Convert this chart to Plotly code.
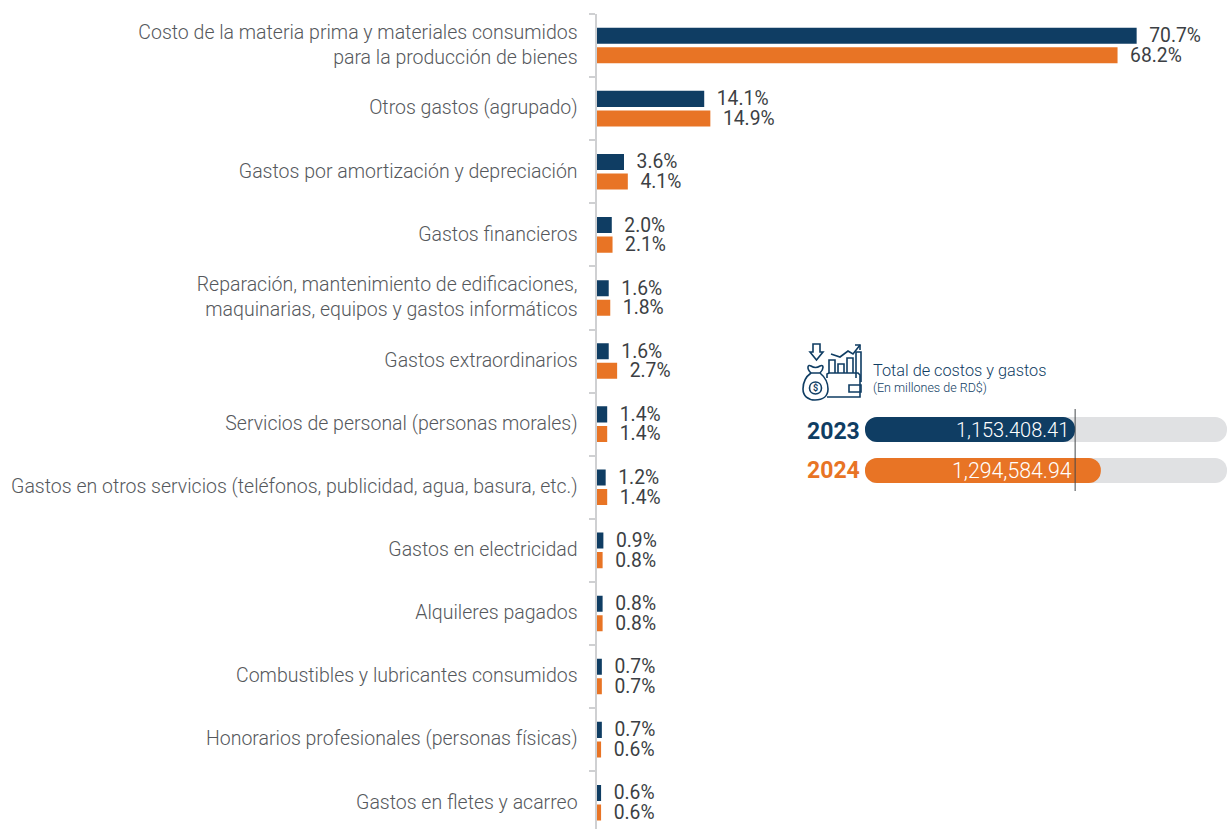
import plotly.graph_objects as go

W, H = 1227, 829
NAVY, ORANGE, GREY = "#0f3d63", "#e87425", "#e0e1e3"

categories = [
    "Costo de la materia prima y materiales consumidos<br>para la producción de bienes",
    "Otros gastos (agrupado)",
    "Gastos por amortización y depreciación",
    "Gastos financieros",
    "Reparación, mantenimiento de edificaciones,<br>maquinarias, equipos y gastos informáticos",
    "Gastos extraordinarios",
    "Servicios de personal (personas morales)",
    "Gastos en otros servicios (teléfonos, publicidad, agua, basura, etc.)",
    "Gastos en electricidad",
    "Alquileres pagados",
    "Combustibles y lubricantes consumidos",
    "Honorarios profesionales (personas físicas)",
    "Gastos en fletes y acarreo",
]
values_2023 = [70.7, 14.1, 3.6, 2.0, 1.6, 1.6, 1.4, 1.2, 0.9, 0.8, 0.7, 0.7, 0.6]
values_2024 = [68.2, 14.9, 4.1, 2.1, 1.8, 2.7, 1.4, 1.4, 0.8, 0.8, 0.7, 0.6, 0.6]

years = ["2023", "2024"]
totals = [1153408.41, 1294584.94]
total_labels = ["1,153.408.41", "1,294,584.94"]
total_track = [1987000, 1987000]
total_title = "Total de costos y gastos"
total_subtitle = "(En millones de RD$)"


def px(x):
    return x / W


def py(y):
    return 1 - y / H


def path(points, close=False):
    s = "M" + " L".join(f"{px(x):.5f},{py(y):.5f}" for x, y in points)
    return s + (" Z" if close else "")


def curve(d):
    """Turn (cmd, x, y, ...) pixel tuples into a paper-coordinate SVG path."""
    out = []
    for item in d:
        cmd, *c = item
        pts = [f"{px(c[i]):.5f},{py(c[i + 1]):.5f}" for i in range(0, len(c), 2)]
        out.append(cmd + " ".join(pts))
    return " ".join(out)


fig = go.Figure()
for name, vals, colour in [("2023", values_2023, NAVY), ("2024", values_2024, ORANGE)]:
    fig.add_trace(go.Bar(
        y=categories, x=vals, name=name, orientation="h", marker_color=colour,
        marker_line_width=0,
        text=[f"\u00a0\u00a0{v:.1f}%" for v in vals], textposition="outside",
        textangle=0, constraintext="none", cliponaxis=False,
        textfont=dict(family="Roboto", size=19.3, color="#3c3f44", weight=400),
        xaxis="x", yaxis="y", hoverinfo="skip",
    ))

# Inset: grey tracks and coloured totals share one slot per year
fig.add_trace(go.Bar(y=years, x=total_track, base=[0, 0], orientation="h", width=0.61, offsetgroup="t",
                     marker=dict(color=GREY, cornerradius="50%", line_width=0),
                     xaxis="x2", yaxis="y2", hoverinfo="skip"))
fig.add_trace(go.Bar(y=years, x=totals, base=[0, 0], orientation="h", width=0.61, offsetgroup="t",
                     marker=dict(color=[NAVY, ORANGE], cornerradius="50%", line_width=0),
                     xaxis="x2", yaxis="y2", hoverinfo="skip"))

annotations = []
for i, (yr, lab, colour, shift, yshift, fs) in enumerate(
        zip(years, total_labels, [NAVY, ORANGE], [-4, -1], [-2, 0], [20, 21.3])):
    annotations.append(dict(xref="x2", yref="y2", x=0, y=i, text=f"<b>{yr}</b>", showarrow=False,
                            xanchor="right", xshift=-3, yshift=yshift, font=dict(family="Roboto", size=23, color=colour)))
    annotations.append(dict(xref="x2", yref="y2", x=totals[0], y=i, text=lab, showarrow=False,
                            xanchor="right", xshift=shift, font=dict(family="Roboto", size=fs, color="white", weight=300)))
annotations.append(dict(xref="paper", yref="paper", x=px(871), y=py(370), text=total_title, showarrow=False,
                        xanchor="left", yanchor="middle", font=dict(family="Roboto", size=16.3, color=NAVY, weight=300)))
annotations.append(dict(xref="paper", yref="paper", x=px(871), y=py(388), text=total_subtitle, showarrow=False,
                        xanchor="left", yanchor="middle", font=dict(family="Roboto", size=12.5, color=NAVY, weight=300)))
annotations.append(dict(xref="paper", yref="paper", x=px(815.5), y=py(388), text="<b>$</b>", showarrow=False,
                        xanchor="center", yanchor="middle", font=dict(family="Roboto", size=9, color=NAVY)))

icon_line = dict(color=NAVY, width=1.6)
icon_paths = [
    path([(813, 344), (820, 344), (820, 352), (823, 352), (816.5, 360), (810, 352), (813, 352)], True),  # arrow
    curve([("M", 811, 373), ("C", 804, 378, 803, 385, 803, 389), ("C", 803, 396, 808, 400, 815, 400),
           ("C", 823, 400, 828, 396, 828, 389), ("C", 828, 385, 826, 378, 820, 373), ("Z",)]),  # bag
    curve([("M", 811, 373), ("C", 806, 368, 808, 364, 811, 366), ("C", 814, 368, 817, 368, 820, 366),
           ("C", 824, 364, 824, 369, 820, 373)]),  # bag neck
    curve([("M", 809.5, 388), ("C", 809.5, 380, 821.5, 380, 821.5, 388),
           ("C", 821.5, 396, 809.5, 396, 809.5, 388), ("Z",)]),  # coin
    path([(827, 378), (827, 374), (829, 373), (858, 373), (860, 375), (860, 397), (827, 397)]),  # wallet
    path([(849, 385), (861, 385), (861, 392), (849, 392)], True),  # clasp
    path([(829, 373), (829, 360), (835, 360), (835, 373)]),
    path([(838, 373), (838, 364), (844, 364), (844, 373)]),
    path([(847, 373), (847, 358), (853, 358), (853, 373)]),
    path([(856, 378), (856, 352), (861, 352), (861, 382)]),
    path([(831, 354), (840, 357), (848, 351), (853, 354), (860, 345)]),  # trend
    path([(855, 345), (860, 345), (860, 350)]),  # trend tip
]
shapes = [dict(type="path", xref="paper", yref="paper", path=p, line=icon_line, layer="above") for p in icon_paths]
shapes.append(dict(type="line", xref="x2", yref="y2 domain", x0=totals[0], x1=totals[0], y0=0, y1=1,
                   line=dict(color="#45484c", width=1), layer="above"))

fig.update_layout(
    width=W, height=H, margin=dict(l=0, r=0, t=0, b=0, pad=0, autoexpand=False),
    paper_bgcolor="white", plot_bgcolor="rgba(0,0,0,0)", showlegend=False,
    barmode="group", bargap=0.38, bargroupgap=0.18,
    xaxis=dict(domain=[596.5 / W, 1], range=[0, 630.5 / 7.64], visible=False, fixedrange=True),
    yaxis=dict(domain=[0, 1 - 14 / H], type="category", categoryorder="array", categoryarray=categories,
               range=[12.416, -0.5], showline=True, linecolor="#cfd0d2", linewidth=2,
               ticks="outside", ticklen=6, tickwidth=1.5, tickcolor="#cfd0d2", tickson="boundaries",
               showgrid=False, zeroline=False, ticklabelstandoff=13, ticklabelshift=1, automargin=False,
               tickfont=dict(family="Roboto", size=19.5, color="#55585c", weight=300), fixedrange=True),
    xaxis2=dict(domain=[865 / W, 1], range=[0, 1987000], visible=False, anchor="y2", fixedrange=True),
    yaxis2=dict(domain=[1 - 491 / H, 1 - 409 / H], type="category", categoryorder="array", categoryarray=years,
                range=[1.5, -0.5], visible=False, anchor="x2", fixedrange=True),
    annotations=annotations, shapes=shapes,
)

fig.write_html("out.html", config=dict(displayModeBar=False),
               post_script="document.body.style.margin='0';document.body.style.overflow='hidden';")
